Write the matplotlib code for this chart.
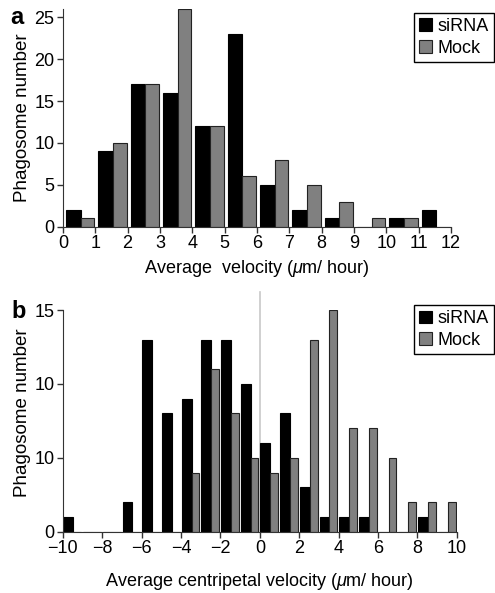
import matplotlib
matplotlib.use("Agg")
import matplotlib.pyplot as plt
import numpy as np

plt.rcParams['font.family'] = ['Liberation Sans', 'DejaVu Sans']
plt.rcParams['mathtext.fontset'] = 'custom'
plt.rcParams['mathtext.rm'] = 'Liberation Sans'
plt.rcParams['mathtext.it'] = 'Liberation Sans:italic'

# Panel a: average velocity histogram (bins of 1 um/hour, 0..11)
bins_a = list(range(0, 12))
sirna_a = [2, 9, 17, 16, 12, 23, 5, 2, 1, 0, 1, 2]
mock_a = [1, 10, 17, 26, 12, 6, 8, 5, 3, 1, 1, 0]

# Panel b: average centripetal velocity histogram (bins of 1, -10..9)
bins_b = list(range(-10, 10))
sirna_b = [1, 0, 0, 2, 13, 8, 9, 13, 13, 10, 6, 8, 3, 1, 1, 1, 0, 0, 1, 0]
mock_b = [0, 0, 0, 0, 0, 0, 4, 11, 8, 5, 4, 5, 13, 15, 7, 7, 5, 2, 2, 2]

ylabels_b = ['0', '10', '10', '15']

grey = '#808080'

fig = plt.figure(figsize=(4.95, 5.93), dpi=100)

# ---- panel a
ax1 = fig.add_axes([0.127, 0.6177, 0.784, 0.367])
xa = np.array(bins_a)
ax1.bar(xa + 0.1, sirna_a, width=0.45, align='edge', color='black',
        edgecolor='black', linewidth=0.8, label='siRNA')
ax1.bar(xa + 0.55, mock_a, width=0.42, align='edge', color=grey,
        edgecolor='#222222', linewidth=0.8, label='Mock')
ax1.set_xlim(0, 12)
ax1.set_ylim(0, 26)
ax1.set_xticks(range(0, 13))
ax1.set_yticks(range(0, 26, 5))
ax1.set_xlabel('Average  velocity ($\\mu$m/ hour)', fontsize=13, labelpad=4)
ax1.set_ylabel('Phagosome number', fontsize=13.5)
ax1.yaxis.set_label_coords(-0.083, 0.5)
ax1.legend(loc='upper right', bbox_to_anchor=(0.998, 1 - 12.7 / 593),
           bbox_transform=fig.transFigure, borderaxespad=0, fontsize=13,
           fancybox=False, edgecolor='black', framealpha=1,
           handlelength=0.7, handleheight=0.7, handletextpad=0.3,
           labelspacing=0.25, borderpad=0.3)
fig.text(0.035, 1 - 17 / 593, 'a', fontsize=17, fontweight='bold',
         ha='center', va='center')

# ---- panel b
ax2 = fig.add_axes([0.127, 0.1034, 0.796, 0.3738])
xb = np.array(bins_b)
ax2.axvline(0, ymin=0, ymax=1.08, color='#c8c8c8', linewidth=1.2,
            clip_on=False, zorder=0)
ax2.bar(xb + 0.03, sirna_b, width=0.5, align='edge', color='black',
        edgecolor='black', linewidth=0.8, label='siRNA')
ax2.bar(xb + 0.53, mock_b, width=0.4, align='edge', color=grey,
        edgecolor='#222222', linewidth=0.8, label='Mock')
ax2.set_xlim(-10, 10)
ax2.set_ylim(0, 15)
ax2.set_xticks(range(-10, 11, 2))
ax2.set_xticklabels(['\u2212' + str(-v) if v < 0 else str(v) for v in range(-10, 11, 2)])
ax2.set_yticks([0, 5, 10, 15])
ax2.set_yticklabels(ylabels_b)
ax2.set_xlabel('Average centripetal velocity ($\\mu$m/ hour)', fontsize=13, labelpad=10)
ax2.set_ylabel('Phagosome number', fontsize=13.5)
ax2.yaxis.set_label_coords(-0.082, 0.535)
ax2.legend(loc='upper right', bbox_to_anchor=(0.998, 1 - 305 / 593),
           bbox_transform=fig.transFigure, borderaxespad=0, fontsize=13,
           fancybox=False, edgecolor='black', framealpha=1,
           handlelength=0.7, handleheight=0.7, handletextpad=0.3,
           labelspacing=0.25, borderpad=0.3)
fig.text(0.038, 1 - 312 / 593, 'b', fontsize=17, fontweight='bold',
         ha='center', va='center')

for ax in (ax1, ax2):
    ax.spines['top'].set_visible(False)
    ax.spines['right'].set_visible(False)
    ax.spines['left'].set_color('#333333')
    ax.spines['bottom'].set_color('#333333')
    ax.tick_params(labelsize=13, length=4, width=1, color='#333333', pad=2)

fig.savefig('out.png', dpi=100)
